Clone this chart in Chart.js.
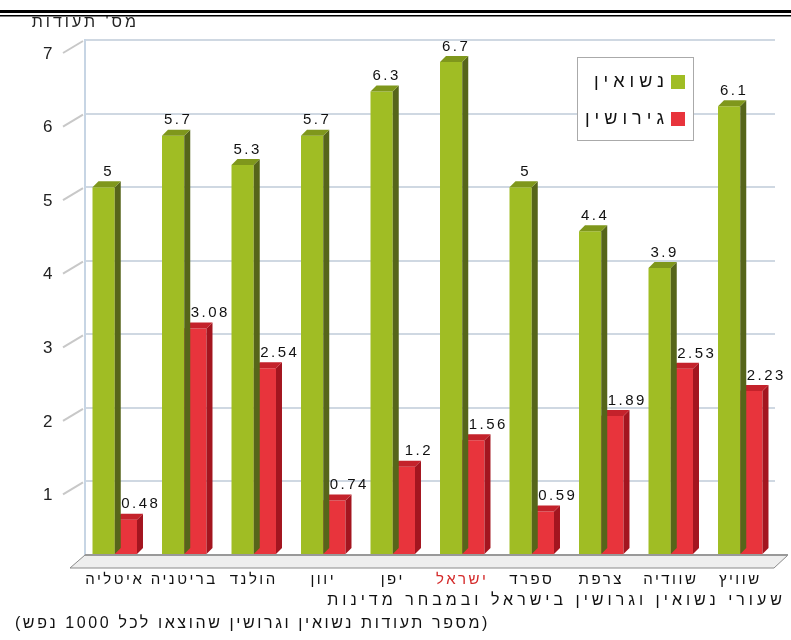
<!DOCTYPE html>
<html>
<head>
<meta charset="utf-8">
<script src="https://cdn.jsdelivr.net/npm/chart.js@4.4.0/dist/chart.umd.min.js"></script>
<style>
  body { margin: 0; background: #fff; }
  canvas { display: block; }
</style>
</head>
<body>
<canvas id="myChart" width="791" height="640"></canvas>
<script>
const categories = ['איטליה', 'בריטניה', 'הולנד', 'יוון', 'יפן', 'ישראל', 'ספרד', 'צרפת', 'שוודיה', 'שוויץ'];
const marriages = [5, 5.7, 5.3, 5.7, 6.3, 6.7, 5, 4.4, 3.9, 6.1];
const divorces = [0.48, 3.08, 2.54, 0.74, 1.2, 1.56, 0.59, 1.89, 2.53, 2.23];
const seriesNames = ['נשואין', 'גירושין'];
const yMax = 7;

const axisTitle = "מס' תעודות";
const caption1 = 'שעורי נשואין וגרושין בישראל ובמבחר מדינות';
const caption2 = '(מספר תעודות נשואין וגרושין שהוצאו לכל 1000 נפש)';

const font = 'Arial, "Liberation Sans", "DejaVu Sans", sans-serif';
const front = ['#a0bd24', '#e8343c'];
const side = ['#56651a', '#a3151f'];
const top3d = ['#7f971c', '#c4222b'];
const depth = 6;

// fake 3d: floor, sides and tops of the bars, labels and legend
const fake3d = {
  id: 'fake3d',
  beforeDraw(chart) {
    // the original uses widely spaced letters
    chart.ctx.letterSpacing = '2.5px';
  },
  beforeDatasetsDraw(chart) {
    const ctx = chart.ctx;
    ctx.letterSpacing = '0px';
    const a = chart.chartArea;
    const y = chart.scales.y;
    const wall = a.left + 5;
    ctx.save();
    // hide grid ends in front of the wall
    ctx.fillStyle = '#fff';
    ctx.fillRect(a.left - 1, a.top - 3, wall - a.left, a.bottom - a.top + 6);
    // back wall edge
    ctx.strokeStyle = '#c7d5e4';
    ctx.lineWidth = 2;
    ctx.beginPath();
    ctx.moveTo(wall, a.top - 1);
    ctx.lineTo(wall, a.bottom);
    ctx.stroke();
    // floor
    ctx.beginPath();
    ctx.moveTo(wall, a.bottom);
    ctx.lineTo(a.right + 13, a.bottom);
    ctx.lineTo(a.right - 1, a.bottom + 13);
    ctx.lineTo(wall - 15, a.bottom + 13);
    ctx.closePath();
    ctx.fillStyle = '#eeeeee';
    ctx.fill();
    ctx.strokeStyle = '#8a8a8a';
    ctx.lineWidth = 1;
    ctx.stroke();
    ctx.beginPath();
    ctx.moveTo(wall, a.bottom);
    ctx.lineTo(a.right + 13, a.bottom);
    ctx.lineWidth = 2;
    ctx.strokeStyle = '#999';
    ctx.stroke();
    // small slanted lines from tick labels to the wall
    ctx.strokeStyle = '#c8c8c8';
    ctx.lineWidth = 2;
    for (let v = 1; v <= yMax; v++) {
      const py = y.getPixelForValue(v);
      ctx.beginPath();
      ctx.moveTo(wall - 22, py + 13);
      ctx.lineTo(wall - 2, py + 1);
      ctx.stroke();
    }
    ctx.restore();
  },
  afterDatasetDraw(chart, args) {
    const ctx = chart.ctx;
    const i = args.index;
    ctx.save();
    args.meta.data.forEach(el => {
      const p = el.getProps(['x', 'y', 'base', 'width'], true);
      const l = p.x - p.width / 2, r = p.x + p.width / 2;
      ctx.fillStyle = side[i];
      ctx.beginPath();
      ctx.moveTo(r, p.y);
      ctx.lineTo(r + depth, p.y - depth);
      ctx.lineTo(r + depth, p.base - depth);
      ctx.lineTo(r, p.base);
      ctx.closePath();
      ctx.fill();
      ctx.fillStyle = top3d[i];
      ctx.beginPath();
      ctx.moveTo(l, p.y);
      ctx.lineTo(l + depth, p.y - depth);
      ctx.lineTo(r + depth, p.y - depth);
      ctx.lineTo(r, p.y);
      ctx.closePath();
      ctx.fill();
    });
    ctx.restore();
  },
  afterDraw(chart) {
    const ctx = chart.ctx;
    ctx.save();
    // value labels
    ctx.fillStyle = '#111';
    ctx.font = '15px ' + font;
    ctx.letterSpacing = '2.5px';
    ctx.textAlign = 'center';
    ctx.textBaseline = 'bottom';
    chart.data.datasets.forEach((ds, i) => {
      chart.getDatasetMeta(i).data.forEach((el, j) => {
        const shift = i === 0 ? 5 : 15;
        ctx.fillText(String(ds.data[j]), el.x + shift, el.y - depth - 2);
      });
    });

    // legend
    ctx.fillStyle = '#fff';
    ctx.fillRect(577, 57, 116, 83);
    ctx.strokeStyle = '#aaa';
    ctx.lineWidth = 1;
    ctx.strokeRect(577.5, 57.5, 116, 83);
    ctx.font = '18px ' + font;
    ctx.letterSpacing = '5px';
    ctx.textAlign = 'right';
    ctx.textBaseline = 'middle';
    ctx.direction = 'rtl';
    chart.data.datasets.forEach((ds, i) => {
      const cy = 82 + i * 37;
      ctx.fillStyle = front[i];
      ctx.fillRect(671, cy - 7, 14, 14);
      ctx.fillStyle = '#111';
      ctx.fillText(ds.label, 669, cy);
    });

    // axis title and captions
    ctx.fillStyle = '#222';
    ctx.font = '16px ' + font;
    ctx.letterSpacing = '3px';
    ctx.fillText(axisTitle, 139, 23);
    ctx.fillStyle = '#111';
    ctx.font = '16px ' + font;
    ctx.letterSpacing = '4px';
    ctx.fillText(caption1, 786, 601);
    ctx.letterSpacing = '2.6px';
    ctx.fillText(caption2, 490, 624);

    // double rule at the top
    ctx.fillStyle = '#000';
    ctx.fillRect(0, 10, 791, 3);
    ctx.fillRect(0, 15, 791, 1.5);
    ctx.restore();
  }
};

new Chart('myChart', {
  type: 'bar',
  data: {
    labels: categories,
    datasets: [
      { label: seriesNames[0], data: marriages, backgroundColor: front[0] },
      { label: seriesNames[1], data: divorces, backgroundColor: front[1] }
    ]
  },
  options: {
    responsive: false,
    animation: false,
    layout: { padding: { top: 40, right: 16 } },
    plugins: { legend: { display: false }, tooltip: { enabled: false } },
    datasets: { bar: { categoryPercentage: 0.64, barPercentage: 1 } },
    scales: {
      x: {
        grid: { display: false, drawTicks: false },
        border: { display: false },
        ticks: {
          padding: 16,
          font: { size: 15, family: font },
          color: c => c.index === 5 ? '#d42a2a' : '#111'
        },
        afterFit: s => { s.height = 85; }
      },
      y: {
        min: 0,
        max: yMax,
        grid: { color: '#cfd8e2', lineWidth: 2, drawTicks: false },
        border: { display: false },
        ticks: {
          stepSize: 1,
          padding: 25,
          labelOffset: 14,
          font: { size: 17, family: font },
          color: '#222',
          callback: v => v === 0 ? '' : v
        },
        afterFit: s => { s.width = 80; }
      }
    }
  },
  plugins: [fake3d]
});
</script>
</body>
</html>
